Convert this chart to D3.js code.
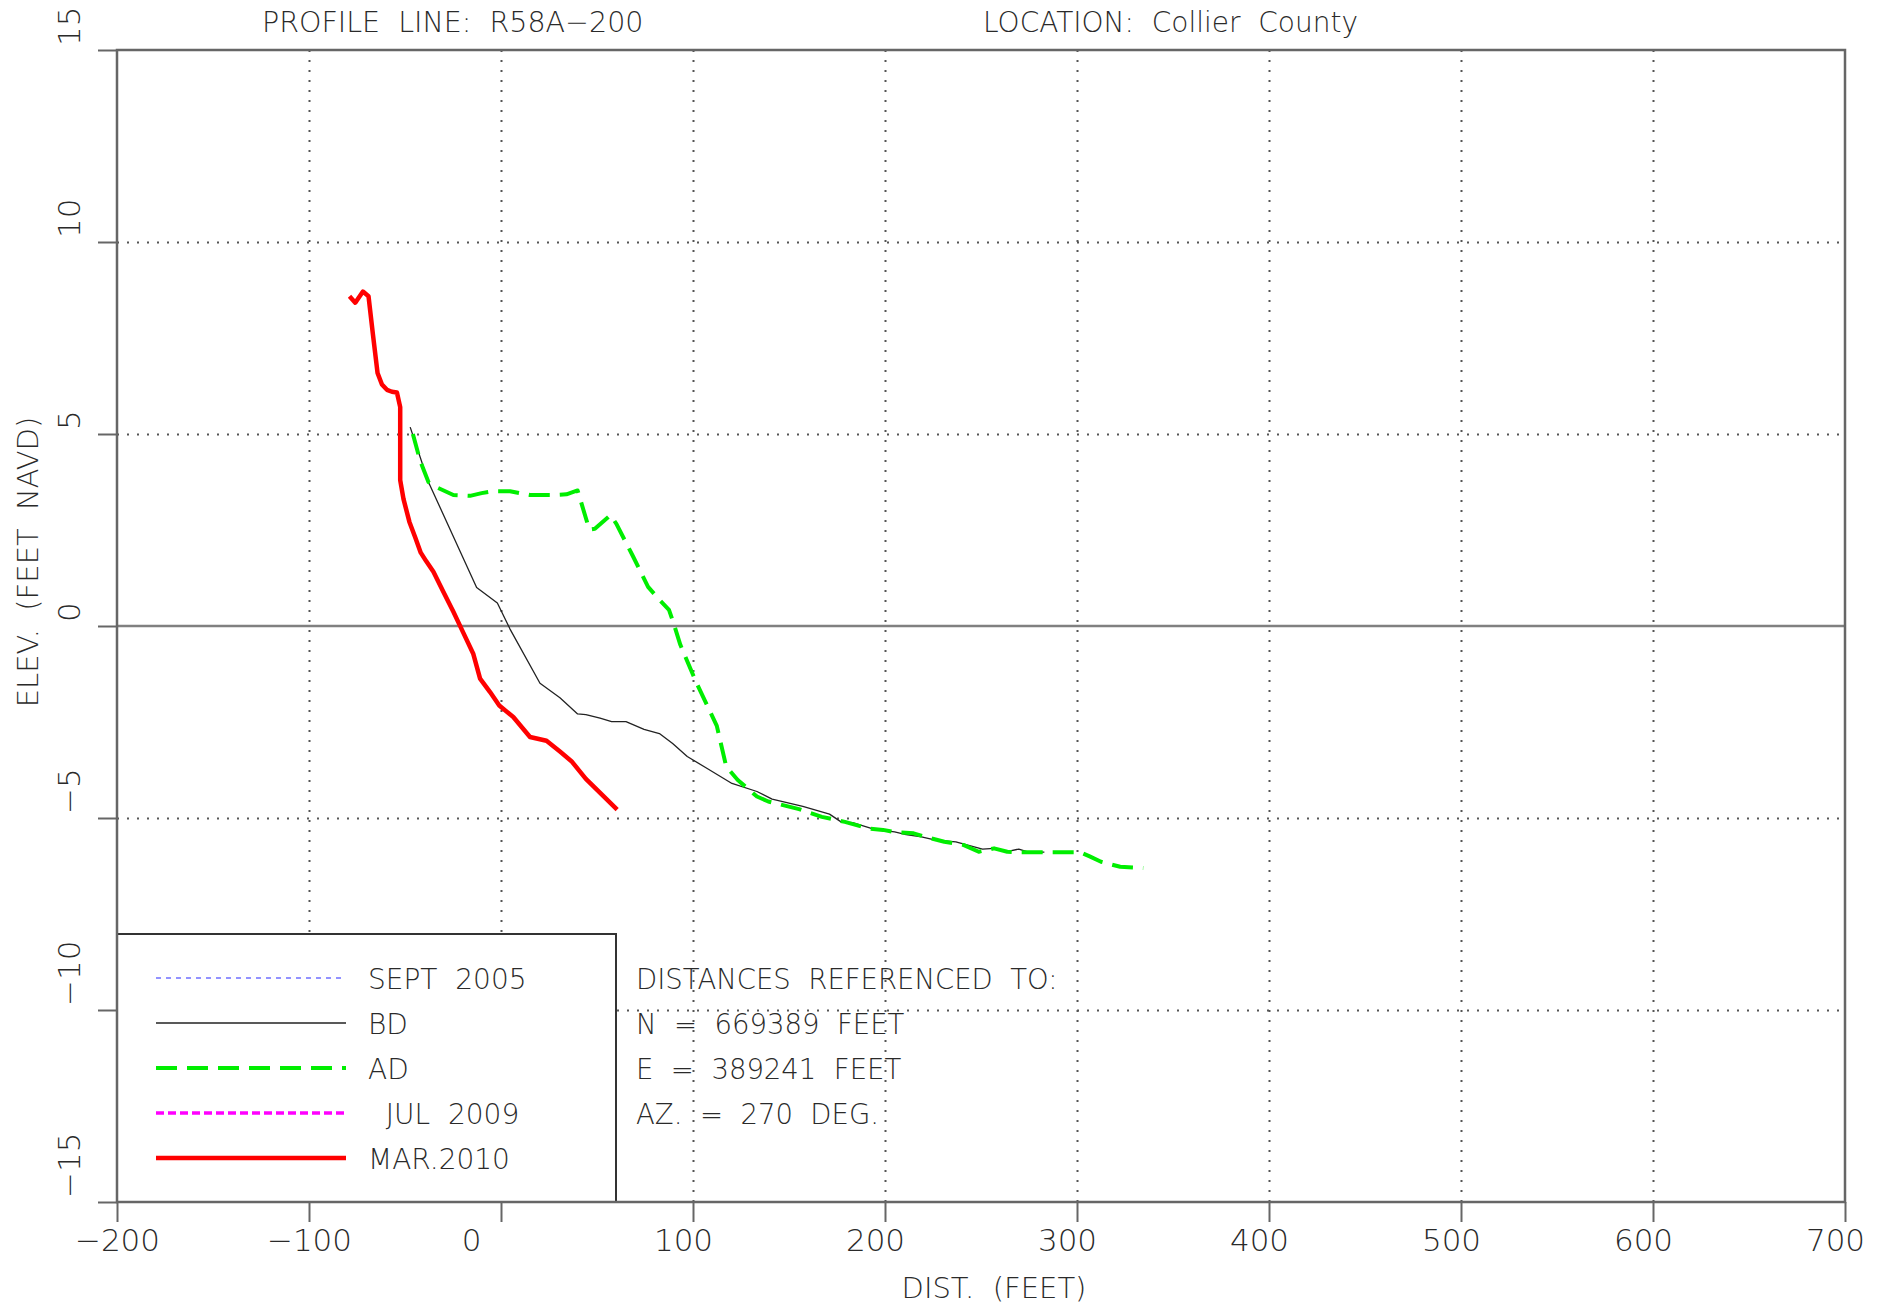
<!DOCTYPE html>
<html>
<head>
<meta charset="utf-8">
<script src="https://cdn.jsdelivr.net/npm/d3@7"></script>
<style>
  body { margin: 0; background: #fff; }
  svg { display: block; }
  text { font-family: "DejaVu Sans", "Liberation Sans", sans-serif; font-weight: 200; fill: #2a2a2a; white-space: pre; }
</style>
</head>
<body>
<svg id="chart" width="1885" height="1306"></svg>
<script>
// profile data: [distance ft, elevation ft NAVD]
const sept2005 = [];
const bd = [
  [-47.3, 5.18], [-37.8, 3.75], [-19.6, 1.76], [-12.7, 1.0], [-1.9, 0.6], [4.7, -0.08],
  [20.3, -1.49], [30.7, -1.87], [39.9, -2.29], [44.2, -2.31], [51.6, -2.4], [57.6, -2.49],
  [65.1, -2.49], [74.5, -2.69], [82.5, -2.8], [89.4, -3.06], [97.0, -3.4], [107.4, -3.71],
  [120.3, -4.1], [133.3, -4.31], [141.2, -4.51], [157.2, -4.7], [171.1, -4.9], [177.1, -5.1],
  [183.1, -5.12], [195.0, -5.3], [205.0, -5.36], [211.0, -5.43], [219.0, -5.49], [226.9, -5.58],
  [236.9, -5.62], [250.8, -5.81], [256.8, -5.79], [262.7, -5.88], [269.7, -5.81], [274.7, -5.89],
  [283.0, -5.89]
];
const ad = [
  [-45.9, 5.0], [-42.1, 4.3], [-37.8, 3.75], [-33.4, 3.61], [-24.8, 3.41], [-16.1, 3.39],
  [-10.1, 3.46], [-4.0, 3.51], [4.7, 3.51], [15.1, 3.41], [27.2, 3.41], [34.1, 3.43],
  [39.9, 3.53], [46.0, 2.51], [48.9, 2.53], [57.0, 2.89], [60.1, 2.66], [68.8, 1.81],
  [76.6, 1.02], [81.8, 0.72], [87.5, 0.42], [89.8, 0.09], [93.4, -0.49], [101.7, -1.47],
  [112.4, -2.6], [117.3, -3.66], [123.3, -4.01], [133.3, -4.44], [139.2, -4.57], [155.2, -4.77],
  [167.1, -4.97], [179.1, -5.1], [191.0, -5.27], [199.0, -5.31], [205.0, -5.37], [214.9, -5.4],
  [220.9, -5.49], [230.9, -5.62], [240.8, -5.7], [248.8, -5.88], [256.8, -5.79], [263.7, -5.88],
  [268.7, -5.89], [280.7, -5.89], [301.6, -5.89], [306.6, -6.0], [312.5, -6.14], [322.5, -6.27],
  [334.5, -6.3]
];
const jul2009 = [];
const mar2010 = [
  [-78.9, 8.59], [-75.9, 8.42], [-71.9, 8.71], [-69.0, 8.59], [-66.7, 7.59], [-64.3, 6.59],
  [-62.0, 6.29], [-59.4, 6.15], [-56.8, 6.1], [-54.2, 6.08], [-52.5, 5.7], [-52.5, 3.8],
  [-50.8, 3.31], [-47.7, 2.71], [-44.7, 2.31], [-41.8, 1.91], [-39.0, 1.69], [-35.2, 1.41],
  [-30.3, 0.92], [-24.8, 0.37], [-19.6, -0.18], [-14.4, -0.73], [-10.9, -1.37], [-5.7, -1.72],
  [-0.9, -2.07], [6.4, -2.37], [15.1, -2.89], [23.7, -2.99], [30.7, -3.27], [36.7, -3.52],
  [44.2, -3.98], [51.5, -4.34], [60.5, -4.78]
];

const xTicks = [-200, -100, 0, 100, 200, 300, 400, 500, 600, 700];
const yTicks = [-15, -10, -5, 0, 5, 10, 15];
const legendLabels = ["SEPT  2005", "BD", "AD", "  JUL  2009", "MAR.2010"];
const infoLines = ["DISTANCES  REFERENCED  TO:", "N  =  669389  FEET", "E  =  389241  FEET", "AZ.  =  270  DEG."];
const titleLeft = "PROFILE  LINE:  R58A\u2212200";
const titleRight = "LOCATION:  Collier  County";

const series = [
  { data: sept2005, color: "#6f6fff", width: 1.5, dash: "5,5" },
  { data: bd, color: "#222", width: 1.3, dash: null },
  { data: ad, color: "#00ee00", width: 4, dash: "21,10" },
  { data: jul2009, color: "#ff00ff", width: 3.5, dash: "8,4" },
  { data: mar2010, color: "#ff0000", width: 4.5, dash: null }
];

const margin = { left: 117, top: 50 };
const width = 1728, height = 1152;

const svg = d3.select("#chart");
const g = svg.append("g").attr("transform", `translate(${margin.left},${margin.top})`);

const x = d3.scaleLinear().domain([-200, 700]).range([0, width]);
const y = d3.scaleLinear().domain([-15, 15]).range([height, 0]);

// dotted grid
g.append("g")
  .attr("transform", `translate(0,${height})`)
  .call(d3.axisBottom(x).tickValues(xTicks.slice(1, -1)).tickSize(-height).tickFormat(""))
  .call(a => a.select(".domain").remove())
  .selectAll("line").attr("stroke", "#555").attr("stroke-width", 2).attr("stroke-dasharray", "2,8");

g.append("g")
  .call(d3.axisLeft(y).tickValues(yTicks.filter(v => v !== 0 && Math.abs(v) !== 15)).tickSize(-width).tickFormat(""))
  .call(a => a.select(".domain").remove())
  .selectAll("line").attr("stroke", "#555").attr("stroke-width", 2).attr("stroke-dasharray", "2,8");

// zero line
g.append("line")
  .attr("x1", 0).attr("x2", width)
  .attr("y1", y(0)).attr("y2", y(0))
  .attr("stroke", "#808080").attr("stroke-width", 2.5);

// profiles
const line = d3.line().x(d => x(d[0])).y(d => y(d[1]));
series.forEach(s => {
  if (!s.data.length) return;
  g.append("path")
    .datum(s.data)
    .attr("d", line)
    .attr("fill", "none")
    .attr("stroke", s.color)
    .attr("stroke-width", s.width)
    .attr("stroke-linejoin", "round")
    .attr("stroke-dasharray", s.dash);
});

// axes ticks
const xAxis = g.append("g")
  .attr("transform", `translate(0,${height})`)
  .call(d3.axisBottom(x).tickValues(xTicks).tickSize(20).tickSizeOuter(0).tickPadding(7)
    .tickFormat(d => d < 0 ? "\u2212" + Math.abs(d) : String(d)));
xAxis.select(".domain").remove();
xAxis.selectAll("line").attr("stroke", "#666").attr("stroke-width", 2);
// labels are centred as 4-char fields, shorter ones sit left
xAxis.selectAll("text")
  .attr("font-size", 31).attr("fill", "#2a2a2a")
  .attr("font-family", "DejaVu Sans, Liberation Sans, sans-serif")
  .attr("dx", function () { return -(4 - this.textContent.length) * 10; });

const yAxis = g.append("g")
  .call(d3.axisLeft(y).tickValues(yTicks).tickSize(19).tickSizeOuter(0).tickFormat(""));
yAxis.select(".domain").remove();
yAxis.selectAll("line").attr("stroke", "#666").attr("stroke-width", 2);

g.append("g").selectAll("text")
  .data(yTicks)
  .join("text")
  .attr("transform", d => `translate(-37,${y(d) - 4}) rotate(-90)`)
  .attr("font-size", 31)
  .text(d => d < 0 ? "\u2212" + Math.abs(d) : String(d));

// legend box
const lg = g.append("g").attr("transform", `translate(0,${height - 268})`);
lg.append("rect")
  .attr("width", 499).attr("height", 268)
  .attr("fill", "#fff").attr("stroke", "#333").attr("stroke-width", 2);

series.forEach((s, i) => {
  const ly = 44 + i * 45;
  lg.append("line")
    .attr("x1", 39).attr("x2", 229)
    .attr("y1", ly).attr("y2", ly)
    .attr("stroke", s.color).attr("stroke-width", s.width)
    .attr("stroke-dasharray", s.dash);
  lg.append("text")
    .attr("x", 251).attr("y", ly + 11)
    .attr("font-size", 28)
    .text(legendLabels[i]);
});

infoLines.forEach((t, i) => {
  lg.append("text")
    .attr("x", 519).attr("y", 55 + i * 45)
    .attr("font-size", 27.5)
    .text(t);
});

// frame
g.append("rect")
  .attr("width", width).attr("height", height)
  .attr("fill", "none").attr("stroke", "#666").attr("stroke-width", 2.5);

// titles
svg.append("text").attr("x", 262).attr("y", 32).attr("font-size", 28.5).text(titleLeft);
svg.append("text").attr("x", 983).attr("y", 32).attr("font-size", 28).text(titleRight);

svg.append("text")
  .attr("x", 994).attr("y", 1298)
  .attr("text-anchor", "middle")
  .attr("font-size", 29)
  .text("DIST.  (FEET)");

svg.append("text")
  .attr("transform", "translate(38,562) rotate(-90)")
  .attr("text-anchor", "middle")
  .attr("font-size", 29)
  .text("ELEV.  (FEET  NAVD)");
</script>
</body>
</html>
